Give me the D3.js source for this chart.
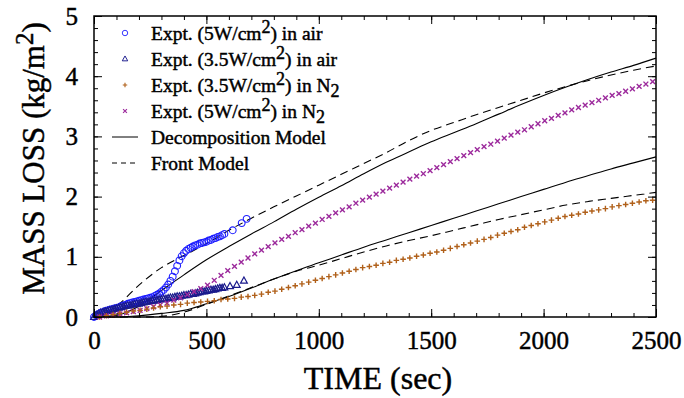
<!DOCTYPE html>
<html>
<head>
<meta charset="utf-8">
<script src="https://cdn.jsdelivr.net/npm/d3@7"></script>
<style>
  body { margin: 0; background: #fff; }
  text { font-family: "Liberation Serif", "Times New Roman", serif; fill: #000; }
  .heavy { stroke: #000; stroke-width: 0.45px; }
</style>
</head>
<body>
<svg id="chart" width="684" height="398"></svg>
<script>
const width = 684;
const height = 398;
const margin = { left: 94, top: 16, right: 28, bottom: 81 };

// experiments in air: dense record every 10 s up to 580 s, then a few sparse points
const tAir = [0,10,20,30,40,50,60,70,80,90,100,110,120,130,140,150,160,170,180,190,200,
  210,220,230,240,250,260,270,280,290,300,310,320,330,340,350,360,370,380,390,400,
  410,420,430,440,450,460,470,480,490,500,510,520,530,540,550,560,570,580];
const air5W = [0,0.03,0.05,0.07,0.08,0.10,0.11,0.12,0.13,0.14,0.15,0.16,0.18,0.19,0.20,0.22,0.23,
  0.24,0.25,0.26,0.27,0.28,0.29,0.30,0.31,0.32,0.33,0.35,0.37,0.39,0.42,0.45,0.49,0.54,0.60,
  0.67,0.76,0.85,0.94,1.01,1.06,1.10,1.13,1.15,1.17,1.19,1.20,1.22,1.23,1.24,1.25,1.27,1.28,
  1.30,1.31,1.33,1.34,1.36,1.38];
const air5WTail = [[617,1.44],[657,1.56],[679,1.63]];
const air35W = [0,0.03,0.05,0.07,0.08,0.09,0.10,0.11,0.12,0.13,0.14,0.15,0.16,0.17,0.18,0.19,0.19,
  0.20,0.21,0.22,0.22,0.23,0.24,0.25,0.25,0.26,0.27,0.27,0.28,0.29,0.29,0.30,0.30,0.31,0.32,
  0.32,0.33,0.34,0.34,0.35,0.36,0.36,0.37,0.38,0.38,0.39,0.40,0.41,0.42,0.42,0.43,0.44,0.45,
  0.45,0.46,0.47,0.48,0.48,0.49];
const air35WTail = [[605,0.51],[635,0.53],[667,0.60]];

// experiments in N2: one point every 30 s
const tN2 = [25,55,85,115,145,175,205,235,265,295,325,355,385,415,445,475,505,535,565,595,
  625,655,685,715,745,775,805,835,865,895,925,955,985,1015,1045,1075,1105,1135,1165,1195,
  1225,1255,1285,1315,1345,1375,1405,1435,1465,1495,1525,1555,1585,1615,1645,1675,1705,
  1735,1765,1795,1825,1855,1885,1915,1945,1975,2005,2035,2065,2095,2125,2155,2185,2215,
  2245,2275,2305,2335,2365,2395,2425,2455,2485];
const n2_35W = [0,0.02,0.04,0.06,0.08,0.10,0.11,0.13,0.15,0.17,0.18,0.20,0.21,0.23,0.24,0.25,
  0.26,0.27,0.29,0.30,0.31,0.33,0.34,0.36,0.38,0.41,0.43,0.46,0.49,0.52,0.55,0.58,0.61,0.64,
  0.67,0.70,0.73,0.76,0.79,0.82,0.84,0.86,0.89,0.91,0.94,0.96,0.98,1.01,1.03,1.06,1.08,1.11,
  1.14,1.17,1.20,1.23,1.26,1.29,1.32,1.36,1.39,1.42,1.45,1.49,1.52,1.55,1.58,1.61,1.64,1.67,
  1.69,1.71,1.74,1.76,1.78,1.80,1.83,1.85,1.87,1.89,1.91,1.93,1.94];
const n2_5W = [0,0.02,0.03,0.05,0.07,0.09,0.11,0.14,0.17,0.20,0.23,0.28,0.32,0.37,0.42,0.47,
  0.53,0.61,0.69,0.77,0.84,0.91,0.98,1.05,1.11,1.17,1.23,1.29,1.34,1.40,1.45,1.51,1.56,1.62,
  1.67,1.73,1.78,1.83,1.89,1.94,1.99,2.04,2.09,2.14,2.19,2.24,2.29,2.34,2.38,2.43,2.48,2.53,
  2.58,2.63,2.68,2.73,2.78,2.83,2.87,2.92,2.97,3.02,3.07,3.11,3.16,3.21,3.26,3.30,3.35,3.39,
  3.44,3.48,3.52,3.56,3.60,3.64,3.68,3.71,3.75,3.79,3.83,3.87,3.91];

// model curves, every 100 s
const tModel = [0,100,200,300,400,500,600,700,800,900,1000,1100,1200,1300,1400,1500,1600,
  1700,1800,1900,2000,2100,2200,2300,2400,2500];
const decomp5W = [0,0.03,0.18,0.44,0.70,0.95,1.17,1.38,1.58,1.79,1.99,2.18,2.38,2.57,2.74,2.91,
  3.06,3.21,3.37,3.53,3.68,3.82,3.95,4.07,4.18,4.30];
const front5W = [0,0.18,0.53,0.82,1.02,1.22,1.44,1.64,1.83,2.01,2.19,2.37,2.55,2.73,2.93,3.10,
  3.23,3.36,3.48,3.60,3.72,3.83,3.93,4.02,4.10,4.17];
const decomp35W = [0,0,0.02,0.06,0.11,0.22,0.34,0.48,0.63,0.77,0.90,1.03,1.16,1.28,1.40,1.52,
  1.64,1.76,1.88,2.00,2.12,2.24,2.35,2.46,2.56,2.66];
const front35W = [0,0,0,0.01,0.08,0.21,0.35,0.49,0.63,0.76,0.86,0.97,1.08,1.18,1.27,1.35,1.44,
  1.53,1.62,1.70,1.78,1.86,1.92,1.97,2.02,2.07];

const xTicks = [0,500,1000,1500,2000,2500];
const yTicks = [0,1,2,3,4,5];

const svg = d3.select('#chart');

let x = d3.scaleLinear().domain([0, 2500]).range([margin.left, width - margin.right]);
let y = d3.scaleLinear().domain([0, 5]).range([height - margin.bottom, margin.top]);

const pts = (ts, vs) => ts.map((t, i) => [t, vs[i]]);

// symbols
const sym = {
  circle: sel => sel.append('circle').attr('r', 3.4).attr('fill', 'none').attr('stroke', '#1e1eff').attr('stroke-width', 1.1),
  tri: sel => sel.append('path').attr('d', 'M0,-3.8L3.4,2.3L-3.4,2.3Z').attr('fill', 'none').attr('stroke', '#1a1a8c').attr('stroke-width', 1.2),
  plus: sel => sel.append('path').attr('d', 'M-2.8,0H2.8M0,-2.8V2.8').attr('stroke', '#b0601a').attr('stroke-width', 1.4),
  cross: sel => sel.append('path').attr('d', 'M-2.4,-2.4L2.4,2.4M-2.4,2.4L2.4,-2.4').attr('stroke', '#9c2a9c').attr('stroke-width', 1.4)
};

// model lines
let line = d3.line().x(d => x(d[0])).y(d => y(d[1])).curve(d3.curveMonotoneX);
const models = [
  { data: pts(tModel, decomp5W), dash: null },
  { data: pts(tModel, front5W), dash: '8,5' },
  { data: pts(tModel, decomp35W), dash: null },
  { data: pts(tModel, front35W), dash: '8,5' }
];
svg.append('g').selectAll('path')
  .data(models)
  .enter().append('path')
    .attr('d', d => line(d.data))
    .attr('fill', 'none')
    .attr('stroke', '#000')
    .attr('stroke-width', 1.1)
    .attr('stroke-dasharray', d => d.dash);

function drawSeries(data, kind) {
  let g = svg.append('g').selectAll('g')
    .data(data)
    .enter().append('g')
      .attr('transform', d => 'translate(' + x(d[0]) + ',' + y(d[1]) + ')');
  sym[kind](g);
}

drawSeries(pts(tAir, air5W).concat(air5WTail), 'circle');
drawSeries(pts(tAir, air35W).concat(air35WTail), 'tri');
drawSeries(pts(tN2, n2_5W), 'cross');
drawSeries(pts(tN2, n2_35W), 'plus');

// axes with inward ticks on all four sides
const x0 = margin.left, x1 = width - margin.right;
const y0 = height - margin.bottom, y1 = margin.top;
const minorX = d3.range(0, 2501, 100);
const minorY = d3.range(0, 5.01, 0.2);

function axisGroup(axis, tx, ty) {
  let g = svg.append('g').attr('transform', 'translate(' + tx + ',' + ty + ')').call(axis);
  g.select('.domain').remove();
  g.selectAll('line').attr('stroke', '#000').attr('stroke-width', 1);
  return g;
}
axisGroup(d3.axisBottom(x).tickValues(minorX).tickSize(-4).tickFormat(''), 0, y0);
axisGroup(d3.axisTop(x).tickValues(minorX).tickSize(-4).tickFormat(''), 0, y1);
axisGroup(d3.axisLeft(y).tickValues(minorY).tickSize(-4).tickFormat(''), x0, 0);
axisGroup(d3.axisRight(y).tickValues(minorY).tickSize(-4).tickFormat(''), x1, 0);
axisGroup(d3.axisTop(x).tickValues(xTicks).tickSize(-8).tickFormat(''), 0, y1);
axisGroup(d3.axisRight(y).tickValues(yTicks).tickSize(-8).tickFormat(''), x1, 0);

let xAxis = axisGroup(d3.axisBottom(x).tickValues(xTicks).tickSize(-8).tickPadding(14).tickFormat(d3.format('d')), 0, y0);
xAxis.selectAll('text').attr('font-size', 25).attr('font-family', '"Liberation Serif", serif').attr('class', 'heavy');
let yAxis = axisGroup(d3.axisLeft(y).tickValues(yTicks).tickSize(-8).tickPadding(16).tickFormat(d3.format('d')), x0, 0);
yAxis.selectAll('text').attr('font-size', 25).attr('font-family', '"Liberation Serif", serif').attr('class', 'heavy');

svg.append('rect')
  .attr('x', x0).attr('y', y1)
  .attr('width', x1 - x0).attr('height', y0 - y1)
  .attr('fill', 'none').attr('stroke', '#000').attr('stroke-width', 1.5);

// axis titles
svg.append('text')
  .attr('class', 'heavy')
  .attr('x', (x0 + x1) / 2 + 3).attr('y', 389)
  .attr('text-anchor', 'middle').attr('font-size', 32)
  .text('TIME (sec)');

let yt = svg.append('text')
  .attr('class', 'heavy')
  .attr('transform', 'translate(44,' + ((y0 + y1) / 2 - 8) + ') rotate(-90)')
  .attr('text-anchor', 'middle').attr('font-size', 31);
yt.append('tspan').text('MASS LOSS (kg/m');
yt.append('tspan').attr('dy', -11).attr('font-size', 25).text('2');
yt.append('tspan').attr('dy', 11).text(')');

// legend
const legendRows = [
  { kind: 'circle', parts: [['Expt. (5W/cm'], ['2', 'sup'], [') in air']] },
  { kind: 'tri', parts: [['Expt. (3.5W/cm'], ['2', 'sup'], [') in air']] },
  { kind: 'plus', parts: [['Expt. (3.5W/cm'], ['2', 'sup'], [') in N'], ['2', 'sub']] },
  { kind: 'cross', parts: [['Expt. (5W/cm'], ['2', 'sup'], [') in N'], ['2', 'sub']] },
  { kind: 'solid', parts: [['Decomposition Model']] },
  { kind: 'dash', parts: [['Front Model']] }
];
const legendY = [33, 59, 85, 111, 137, 163];

legendRows.forEach((row, i) => {
  let ly = legendY[i];
  if (row.kind === 'solid' || row.kind === 'dash') {
    svg.append('line')
      .attr('x1', 112).attr('x2', 138).attr('y1', ly).attr('y2', ly)
      .attr('stroke', '#000').attr('stroke-width', 1)
      .attr('stroke-dasharray', row.kind === 'dash' ? '5,4' : null);
  } else {
    let g = svg.append('g').attr('transform', 'translate(125,' + ly + ') scale(0.8)');
    sym[row.kind](g);
  }
  let t = svg.append('text').attr('class', 'heavy').attr('x', 151).attr('y', ly + 7).attr('font-size', 19.5);
  let shift = 0;
  row.parts.forEach(p => {
    let s = t.append('tspan').text(p[0]);
    let target = p[1] === 'sup' ? -7 : p[1] === 'sub' ? 5 : 0;
    if (target !== shift) { s.attr('dy', target - shift); shift = target; }
    if (p[1]) s.attr('font-size', 18);
  });
});
</script>
</body>
</html>
